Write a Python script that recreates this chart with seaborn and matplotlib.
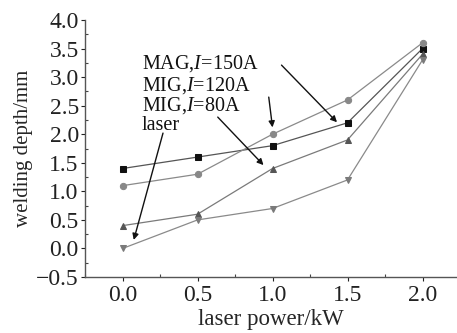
import pandas as pd
import numpy as np
import matplotlib
matplotlib.use("Agg")
import matplotlib.pyplot as plt
from matplotlib.ticker import MultipleLocator
import seaborn as sns

# data
power = [0.0, 0.5, 1.0, 1.5, 2.0]
mag_150 = [1.4, 1.6, 1.8, 2.2, 3.5]
mig_120 = [1.1, 1.3, 2.0, 2.6, 3.6]
mig_80 = [0.4, 0.6, 1.4, 1.9, 3.4]
laser = [0.0, 0.5, 0.7, 1.2, 3.3]

sns.set_style("ticks")
plt.rcParams['font.family'] = ['Liberation Serif', 'DejaVu Serif']
plt.rcParams['mathtext.fontset'] = 'custom'
plt.rcParams['mathtext.it'] = 'Liberation Serif:italic'
plt.rcParams['mathtext.rm'] = 'Liberation Serif'

fig = plt.figure(figsize=(4.57, 3.33), dpi=100)
ax = fig.add_axes([0.186, 0.168, 0.814, 0.772])

series = [
    ("MAG", mag_150, "s", "#111111", "#555555"),
    ("MIG120", mig_120, "o", "#888888", "#8a8a8a"),
    ("MIG80", mig_80, "^", "#555555", "#7a7a7a"),
    ("laser", laser, "v", "#7a7a7a", "#8a8a8a"),
]
for name, vals, mk, mcol, lcol in series:
    sns.lineplot(x=power, y=vals, ax=ax, color=lcol, lw=0.9,
                 marker=mk, markersize=4.5, markerfacecolor=mcol,
                 markeredgecolor=mcol)

ax.set_xlim(-0.25, 2.23)
ax.set_ylim(-0.5, 4.0)
ax.xaxis.set_major_locator(MultipleLocator(0.5))
ax.xaxis.set_minor_locator(MultipleLocator(0.25))
ax.yaxis.set_major_locator(MultipleLocator(0.5))
ax.yaxis.set_minor_locator(MultipleLocator(0.25))
ax.tick_params(which="major", direction="out", length=3, width=0.8,
               labelsize=17, colors="#222222", pad=1.5)
ax.tick_params(axis="x", which="major", pad=3)
ax.tick_params(which="minor", direction="in", length=2, width=0.8,
               colors="#444444")
for side in ["top", "right"]:
    ax.spines[side].set_visible(False)
for side in ["left", "bottom"]:
    ax.spines[side].set_color("#555555")
    ax.spines[side].set_linewidth(1.0)

ax.set_xlabel("laser power/kW", fontsize=16.5, labelpad=2)
ax.set_ylabel("welding depth/mm", fontsize=15, labelpad=2)

# labels with arrows
txt = dict(fontsize=14.5, color="#111111", va="center", ha="left")
ax.text(0.13, 3.23, r"MAG,$I$=150A", **txt)
ax.text(0.13, 2.86, r"MIG,$I$=120A", **txt)
ax.text(0.13, 2.50, r"MIG,$I$=80A", **txt)
ax.text(0.13, 2.16, "laser", **txt)

arrow = dict(arrowstyle="-|>", color="#111111", lw=1.0, mutation_scale=9,
             shrinkA=0, shrinkB=0)
ax.annotate("", xy=(1.43, 2.21), xytext=(1.06, 3.21), arrowprops=arrow)
ax.annotate("", xy=(1.0, 2.12), xytext=(0.975, 2.65), arrowprops=arrow)
ax.annotate("", xy=(0.94, 1.46), xytext=(0.635, 2.30), arrowprops=arrow)
ax.annotate("", xy=(0.075, 0.15), xytext=(0.27, 2.02), arrowprops=arrow)

fig.savefig("out.png", dpi=100)
